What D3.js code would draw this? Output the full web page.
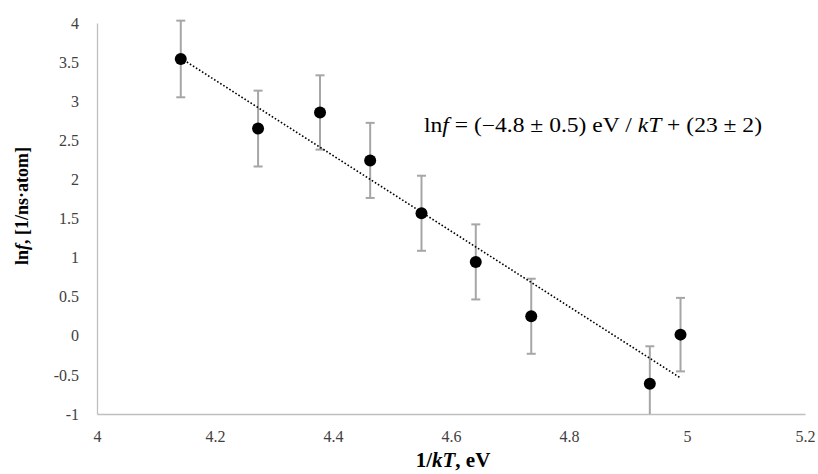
<!DOCTYPE html>
<html><head><meta charset="utf-8">
<script src="https://cdn.jsdelivr.net/npm/d3@7"></script>
<style>body{margin:0;background:#fff;} svg{display:block;}</style>
</head><body>
<svg id="c" width="818" height="474"></svg>
<script>
const xValues = [4.142, 4.273, 4.378, 4.463, 4.550, 4.642, 4.736, 4.937, 4.989];
const yValues = [3.54, 2.65, 2.856, 2.243, 1.567, 0.945, 0.25, -0.614, 0.015];
const yErrors = [0.49, 0.485, 0.475, 0.48, 0.48, 0.48, 0.48, 0.48, 0.47];
const xTicks = [4, 4.2, 4.4, 4.6, 4.8, 5, 5.2];
const yTicks = [-1, -0.5, 0, 0.5, 1, 1.5, 2, 2.5, 3, 3.5, 4];

const svg = d3.select("#c");
const M = {left: 97, right: 805, top: 23, bottom: 414};
const x = d3.scaleLinear().domain([4, 5.2]).range([M.left, M.right]);
const y = d3.scaleLinear().domain([-1, 4]).range([M.bottom, M.top]);
const font = "'Liberation Serif','Times New Roman',serif";

svg.append("defs").append("clipPath").attr("id","plot")
  .append("rect").attr("x", M.left).attr("y", M.top - 5)
  .attr("width", M.right - M.left).attr("height", M.bottom - M.top + 5);

// axes
const fmt = d => String(d);
const xAxis = svg.append("g").attr("transform", `translate(0,${M.bottom})`)
  .call(d3.axisBottom(x).tickValues(xTicks).tickSize(0).tickPadding(18).tickFormat(fmt));
const yAxis = svg.append("g").attr("transform", `translate(${M.left},0)`)
  .call(d3.axisLeft(y).tickValues(yTicks).tickSize(0).tickPadding(18).tickFormat(fmt));
[xAxis, yAxis].forEach(g => {
  g.select(".domain").attr("stroke", "#bfbfbf").attr("stroke-width", 1.3);
  g.selectAll("text").attr("font-family", font).attr("font-size", 16).attr("fill", "#404040");
});
yAxis.selectAll("text").attr("dy", "0.32em");
xAxis.selectAll("text").attr("dy", "0.62em");

// error bars
const plot = svg.append("g").attr("clip-path", "url(#plot)");
const eb = plot.selectAll("g.eb").data(xValues.map((xv, i) => ({x: xv, y: yValues[i], e: yErrors[i]})))
  .join("g").attr("stroke", "#a6a6a6").attr("stroke-width", 2);
eb.append("line").attr("x1", d => x(d.x)).attr("x2", d => x(d.x))
  .attr("y1", d => y(d.y + d.e)).attr("y2", d => y(d.y - d.e));
eb.append("line").attr("x1", d => x(d.x) - 4.5).attr("x2", d => x(d.x) + 4.5)
  .attr("y1", d => y(d.y + d.e)).attr("y2", d => y(d.y + d.e));
eb.append("line").attr("x1", d => x(d.x) - 4.5).attr("x2", d => x(d.x) + 4.5)
  .attr("y1", d => y(d.y - d.e)).attr("y2", d => y(d.y - d.e));

// linear trendline (least squares over the data)
const mx = d3.mean(xValues), my = d3.mean(yValues);
const slope = d3.sum(xValues.map((v, i) => (v - mx) * (yValues[i] - my))) / d3.sum(xValues.map(v => (v - mx) ** 2));
const icpt = my - slope * mx;
const xr = d3.extent(xValues);
svg.append("line")
  .attr("x1", x(xr[0])).attr("y1", y(icpt + slope * xr[0]))
  .attr("x2", x(xr[1])).attr("y2", y(icpt + slope * xr[1]))
  .attr("stroke", "#000").attr("stroke-width", 1.6).attr("stroke-dasharray", "1.6,2");

// points
svg.selectAll("circle.pt").data(xValues).join("circle")
  .attr("cx", d => x(d)).attr("cy", (d, i) => y(yValues[i])).attr("r", 6).attr("fill", "#000");

// equation
const eq = svg.append("text").attr("x", 424).attr("y", 132)
  .attr("font-family", font).attr("font-size", 20).attr("fill", "#000")
  .attr("textLength", 338).attr("lengthAdjust", "spacingAndGlyphs");
eq.append("tspan").text("ln");
eq.append("tspan").attr("font-style", "italic").text("f");
eq.append("tspan").text(" = (\u22124.8 \u00b1 0.5) eV / ");
eq.append("tspan").attr("font-style", "italic").text("kT");
eq.append("tspan").text(" + (23 \u00b1 2)");

// x title
const xt = svg.append("text").attr("x", 453).attr("y", 467).attr("text-anchor", "middle")
  .attr("font-family", font).attr("font-size", 21).attr("font-weight", "bold").attr("fill", "#000");
xt.append("tspan").text("1/");
xt.append("tspan").attr("font-style", "italic").text("kT");
xt.append("tspan").text(", eV");

// y title
const yt = svg.append("text").attr("transform", "translate(28,206) rotate(-90)").attr("text-anchor", "middle")
  .attr("font-family", font).attr("font-size", 18).attr("font-weight", "bold").attr("fill", "#000");
yt.append("tspan").text("ln");
yt.append("tspan").attr("font-style", "italic").text("f");
yt.append("tspan").text(", [1/ns\u00b7atom]");
</script>
</body></html>
